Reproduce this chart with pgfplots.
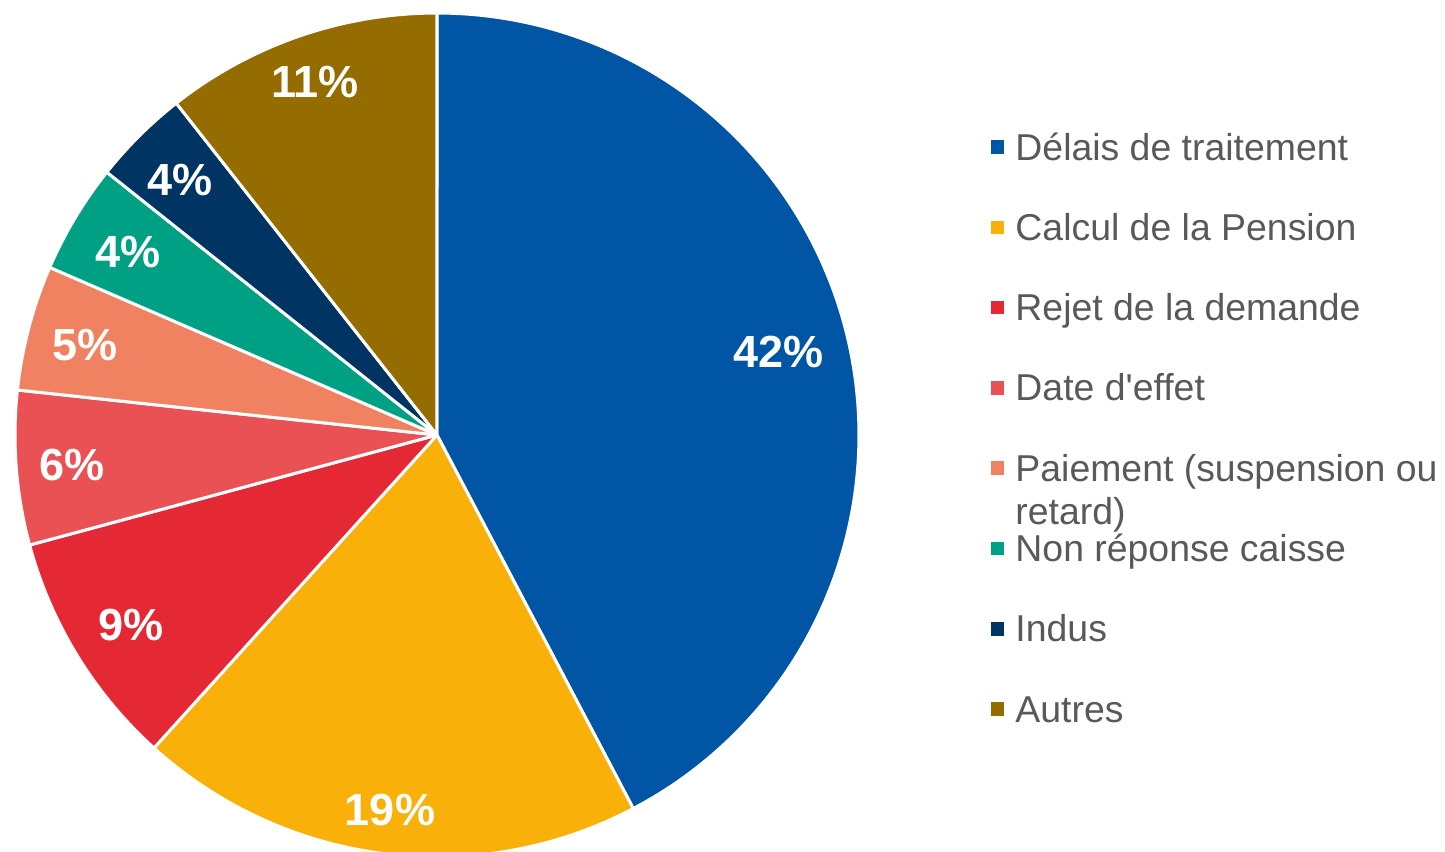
\documentclass[border=0pt]{standalone}
\usepackage{pgfplots}
\pgfplotsset{compat=1.18}
\usepackage{fontspec}
\setmainfont{Liberation Sans}[Ligatures=TeXOff]

\definecolor{cDel}{RGB}{0,85,164}
\definecolor{cCal}{RGB}{249,176,8}
\definecolor{cRej}{RGB}{228,41,52}
\definecolor{cDat}{RGB}{233,81,85}
\definecolor{cPai}{RGB}{240,130,98}
\definecolor{cNon}{RGB}{0,160,133}
\definecolor{cInd}{RGB}{0,52,98}
\definecolor{cAut}{RGB}{148,108,0}
\definecolor{legtxt}{RGB}{89,89,89}

\tikzset{lbl/.style={text=white, font=\fontsize{22.5bp}{26bp}\selectfont\bfseries, anchor=center, inner sep=0pt}}

% shares (percent), clockwise from 12 o'clock
\def\vA{42.3}% Délais de traitement
\def\vB{19.4}% Calcul de la Pension
\def\vC{9.1}%  Rejet de la demande
\def\vD{5.9}%  Date d'effet
\def\vE{4.8}%  Paiement
\def\vF{4.2}%  Non réponse caisse
\def\vG{3.7}%  Indus
\def\vH{10.6}% Autres

\pgfmathsetmacro\aA{90}
\pgfmathsetmacro\aB{\aA-3.6*\vA}
\pgfmathsetmacro\aC{\aB-3.6*\vB}
\pgfmathsetmacro\aD{\aC-3.6*\vC}
\pgfmathsetmacro\aE{\aD-3.6*\vD}
\pgfmathsetmacro\aF{\aE-3.6*\vE}
\pgfmathsetmacro\aG{\aF-3.6*\vF}
\pgfmathsetmacro\aH{\aG-3.6*\vG}
\pgfmathsetmacro\aI{\aH-3.6*\vH}

\begin{document}
\begin{tikzpicture}
\useasboundingbox (0,0) rectangle (722.5bp,426bp);
\begin{axis}[
  at={(0,0)}, anchor=south west,
  x=0.5bp, y=0.5bp,
  xmin=-437, xmax=1008, ymin=-417, ymax=435,
  hide axis, clip=false,
  every axis plot/.append style={draw=white, line width=1.5bp, line join=round, samples=150, variable=\t},
  legend style={at={(axis cs:554,309)}, anchor=north west, draw=none, fill=none,
    inner sep=0pt, outer sep=0pt, row sep=19.15bp, column sep=5.5bp,
    font=\fontsize{18.7bp}{21.5bp}\selectfont, text=legtxt,
    nodes={inner sep=0pt, text height=17bp, text depth=4bp}},
  legend cell align=left,
  legend image code/.code={\fill[#1, draw=none] (0bp,-3.4bp) rectangle (6.75bp,3.4bp);},
]
\addplot[fill=cDel, domain=\aB:\aA] ({422*cos(\t)},{422*sin(\t)}) -- (axis cs:0,0) -- cycle;
\addlegendentry{Délais de traitement}
\addplot[fill=cCal, domain=\aC:\aB] ({422*cos(\t)},{422*sin(\t)}) -- (axis cs:0,0) -- cycle;
\addlegendentry{Calcul de la Pension}
\addplot[fill=cRej, domain=\aD:\aC] ({422*cos(\t)},{422*sin(\t)}) -- (axis cs:0,0) -- cycle;
\addlegendentry{Rejet de la demande}
\addplot[fill=cDat, domain=\aE:\aD] ({422*cos(\t)},{422*sin(\t)}) -- (axis cs:0,0) -- cycle;
\addlegendentry{Date d'effet}
\addplot[fill=cPai, domain=\aF:\aE] ({422*cos(\t)},{422*sin(\t)}) -- (axis cs:0,0) -- cycle;
\addlegendentry{\rlap{\raisebox{-21.5bp}[0pt][0pt]{retard)}}Paiement (suspension ou}
\addplot[fill=cNon, domain=\aG:\aF] ({422*cos(\t)},{422*sin(\t)}) -- (axis cs:0,0) -- cycle;
\addlegendentry{Non réponse caisse}
\addplot[fill=cInd, domain=\aH:\aG] ({422*cos(\t)},{422*sin(\t)}) -- (axis cs:0,0) -- cycle;
\addlegendentry{Indus}
\addplot[fill=cAut, domain=\aI:\aH] ({422*cos(\t)},{422*sin(\t)}) -- (axis cs:0,0) -- cycle;
\addlegendentry{Autres}

\node[lbl] at (axis cs:342,83) {42\%};
\node[lbl] at (axis cs:-47,-375) {19\%};
\node[lbl] at (axis cs:-306,-190) {9\%};
\node[lbl] at (axis cs:-365,-30) {6\%};
\node[lbl] at (axis cs:-352,90) {5\%};
\node[lbl] at (axis cs:-309,183) {4\%};
\node[lbl] at (axis cs:-257,255) {4\%};
\node[lbl] at (axis cs:-122,353) {11\%};
\end{axis}
\end{tikzpicture}
\end{document}
